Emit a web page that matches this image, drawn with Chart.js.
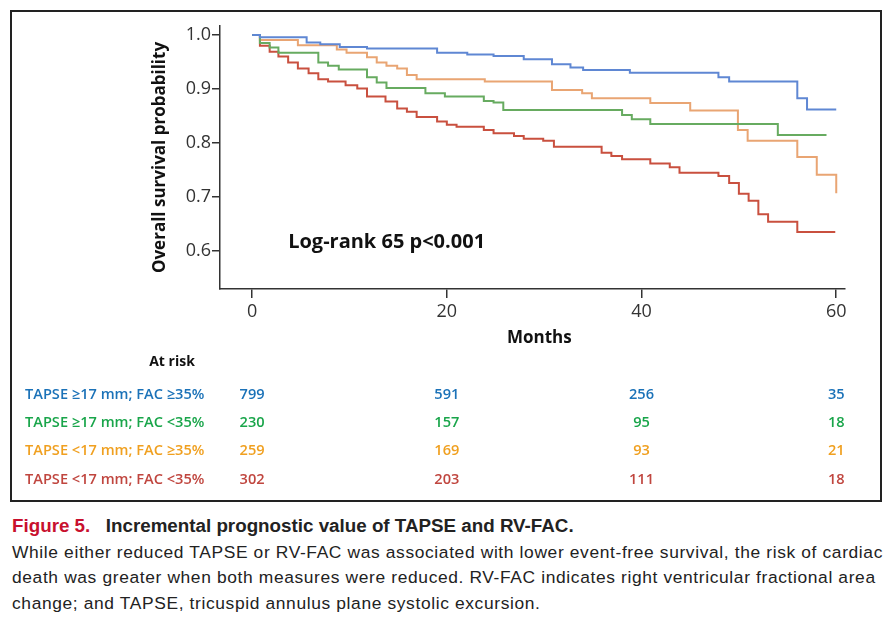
<!DOCTYPE html>
<html>
<head>
<meta charset="utf-8">
<title>Figure 5 - TAPSE and RV-FAC survival</title>
<script src="https://cdn.jsdelivr.net/npm/chart.js@4/dist/chart.umd.min.js"></script>
<style>
  body { margin: 0; background: #fff; width: 891px; height: 617px; position: relative; overflow: hidden; }
  #box { position: absolute; left: 10px; top: 10px; width: 872px; height: 492px; border: 2px solid #222; box-sizing: border-box; }
  #wrap { position: absolute; left: 0; top: 0; width: 868px; height: 488px; }
  #caption { position: absolute; left: 12px; top: 513px; width: 880px; white-space: nowrap; font-family: "Liberation Sans", Arial, sans-serif; font-size: 17.4px; letter-spacing: 0.63px; line-height: 25.5px; color: #222; }
  #caption .fig { color: #c8102e; font-weight: bold; font-size: 18.8px; margin-right: 10px; letter-spacing: 0; }
  #caption .head { font-weight: bold; font-size: 18.8px; letter-spacing: 0; }
</style>
</head>
<body>
<div id="box"><div id="wrap"><canvas id="kmChart"></canvas></div></div>
<div id="caption">
  <span class="fig">Figure 5.</span> <span class="head">Incremental prognostic value of TAPSE and RV-FAC.</span><br>
  While either reduced TAPSE or RV-FAC was associated with lower event-free survival, the risk of cardiac<br>
  death was greater when both measures were reduced. RV-FAC indicates right ventricular fractional area<br>
  change; and TAPSE, tricuspid annulus plane systolic excursion.
</div>
<script>
// Kaplan-Meier steps (month, survival after the drop)
const blueMonths = [0, 0.8, 5.6, 7.0, 9.0, 11.8, 19.0, 22.1, 24.8, 27.9, 30.8, 32.7, 34.0, 38.8, 47.9, 49.0, 56.0, 57.0, 60.0];
const blueSurv   = [1.0, 0.996, 0.986, 0.983, 0.978, 0.975, 0.967, 0.964, 0.961, 0.955, 0.946, 0.940, 0.935, 0.930, 0.922, 0.914, 0.883, 0.862, 0.862];

const greenMonths = [0, 0.8, 1.8, 2.7, 6.8, 7.8, 8.9, 11.8, 12.8, 13.8, 17.8, 19.8, 23.8, 24.8, 25.8, 38.0, 39.0, 40.9, 54.0, 59.0];
const greenSurv   = [1.0, 0.985, 0.977, 0.967, 0.949, 0.943, 0.936, 0.922, 0.912, 0.902, 0.892, 0.886, 0.878, 0.875, 0.861, 0.852, 0.844, 0.835, 0.815, 0.815];

const orangeMonths = [0, 0.8, 4.7, 8.7, 9.7, 11.8, 12.8, 13.8, 14.9, 15.9, 16.9, 23.9, 30.8, 33.9, 34.9, 40.9, 45.0, 49.9, 50.9, 56.0, 58.0, 60.0];
const orangeSurv   = [1.0, 0.991, 0.981, 0.973, 0.967, 0.959, 0.949, 0.943, 0.938, 0.926, 0.918, 0.914, 0.898, 0.892, 0.883, 0.874, 0.860, 0.824, 0.804, 0.774, 0.741, 0.707];

const redMonths = [0, 0.8, 1.8, 2.7, 3.7, 4.7, 5.8, 6.8, 7.8, 9.6, 10.8, 11.8, 13.7, 14.9, 15.9, 16.9, 19.0, 20.0, 21.0, 23.8, 24.8, 26.9, 27.9, 29.9, 31.0, 35.9, 36.9, 38.0, 40.9, 42.9, 43.9, 47.9, 49.0, 50.0, 51.0, 52.0, 53.0, 56.0, 59.9];
const redSurv   = [1.0, 0.980, 0.969, 0.960, 0.949, 0.938, 0.929, 0.918, 0.914, 0.907, 0.901, 0.886, 0.877, 0.864, 0.858, 0.848, 0.840, 0.834, 0.830, 0.824, 0.818, 0.813, 0.808, 0.804, 0.793, 0.782, 0.776, 0.770, 0.762, 0.755, 0.745, 0.739, 0.726, 0.706, 0.693, 0.668, 0.654, 0.635, 0.635];

// At-risk table
const riskMonths = [0, 20, 40, 60];
const groupLabels = ['TAPSE \u226517 mm; FAC \u226535%', 'TAPSE \u226517 mm; FAC <35%', 'TAPSE <17 mm; FAC \u226535%', 'TAPSE <17 mm; FAC <35%'];
const atRiskBlue   = [799, 591, 256, 35];
const atRiskGreen  = [230, 157, 95, 18];
const atRiskOrange = [259, 169, 93, 21];
const atRiskRed    = [302, 203, 111, 18];

const xTicks = [0, 20, 40, 60];
const yTicks = [0.6, 0.7, 0.8, 0.9, 1.0];

const lineColors = ['#5f87d3', '#67ab60', '#e9a573', '#c9503f'];
const textColors = ['#1b72b8', '#19a54a', '#f0a020', '#c0463f'];

function toPoints(months, surv) {
  return months.map((m, i) => ({ x: m, y: surv[i] }));
}

function makeSet(label, months, surv, color) {
  return {
    label: label,
    data: toPoints(months, surv),
    borderColor: color,
    borderWidth: 2,
    stepped: true,
    pointRadius: 0,
    fill: false
  };
}

// Log-rank note, x title and at-risk numbers, placed through the chart scales
const extrasPlugin = {
  id: 'extras',
  afterDraw(chart) {
    const ctx = chart.ctx;
    const xs = chart.scales.x;
    const ys = chart.scales.y;
    ctx.save();
    ctx.fillStyle = '#111';
    ctx.font = 'bold 20px "Open Sans"';
    ctx.textAlign = 'left';
    ctx.textBaseline = 'middle';
    ctx.fillText('Log-rank 65 p<0.001', xs.getPixelForValue(3.7), ys.getPixelForValue(0.617));

    ctx.font = 'bold 17px "Open Sans"';
    ctx.textAlign = 'center';
    ctx.fillText('Months', xs.getPixelForValue(29.5), 326);

    ctx.font = 'bold 14px "Open Sans"';
    ctx.fillText('At risk', 160, 350);

    const rows = [atRiskBlue, atRiskGreen, atRiskOrange, atRiskRed];
    const rowY = [383, 411, 439, 468];
    rows.forEach((vals, r) => {
      ctx.fillStyle = textColors[r];
      ctx.font = '600 14.6px "Open Sans"';
      ctx.textAlign = 'left';
      ctx.fillText(groupLabels[r], 13, rowY[r]);
      ctx.textAlign = 'center';
      vals.forEach((v, c) => {
        ctx.fillText(String(v), xs.getPixelForValue(riskMonths[c]), rowY[r]);
      });
    });
    ctx.restore();
  }
};

document.addEventListener('DOMContentLoaded', function() {
  const canvas = document.getElementById('kmChart');
  new Chart(canvas, {
    type: 'line',
    data: {
      datasets: [
        makeSet(groupLabels[0], blueMonths, blueSurv, lineColors[0]),
        makeSet(groupLabels[1], greenMonths, greenSurv, lineColors[1]),
        makeSet(groupLabels[2], orangeMonths, orangeSurv, lineColors[2]),
        makeSet(groupLabels[3], redMonths, redSurv, lineColors[3])
      ]
    },
    options: {
      responsive: true,
      maintainAspectRatio: false,
      animation: false,
      layout: { padding: { left: 0, top: 14, right: 35, bottom: 151 } },
      plugins: {
        legend: { display: false },
        tooltip: { enabled: false }
      },
      scales: {
        x: {
          type: 'linear',
          min: -3.3,
          max: 60.9,
          afterFit: function(scale) { scale.height = 60; },
          afterBuildTicks: function(scale) { scale.ticks = xTicks.map(v => ({ value: v })); },
          border: { display: true, color: '#333', width: 1.5 },
          grid: { drawOnChartArea: false, drawTicks: true, tickLength: 9, color: '#333', lineWidth: 1.5 },
          ticks: { color: '#333', padding: 3, font: { family: 'Open Sans', size: 18 } },
          title: { display: false }
        },
        y: {
          min: 0.5296,
          max: 1.0167,
          afterFit: function(scale) { scale.width = 208; },
          afterBuildTicks: function(scale) { scale.ticks = yTicks.map(v => ({ value: v })); },
          border: { display: true, color: '#333', width: 1.5 },
          grid: { drawOnChartArea: false, drawTicks: true, tickLength: 8, color: '#333', lineWidth: 1.5 },
          ticks: { color: '#333', padding: 1, font: { family: 'Open Sans', size: 18 }, callback: v => v.toFixed(1) },
          title: { display: true, text: 'Overall survival probability', color: '#111', padding: { top: 138, bottom: 0 }, font: { family: 'Open Sans', size: 17, weight: 'bold' } }
        }
      }
    },
    plugins: [extrasPlugin]
  });
});
</script>
</body>
</html>
